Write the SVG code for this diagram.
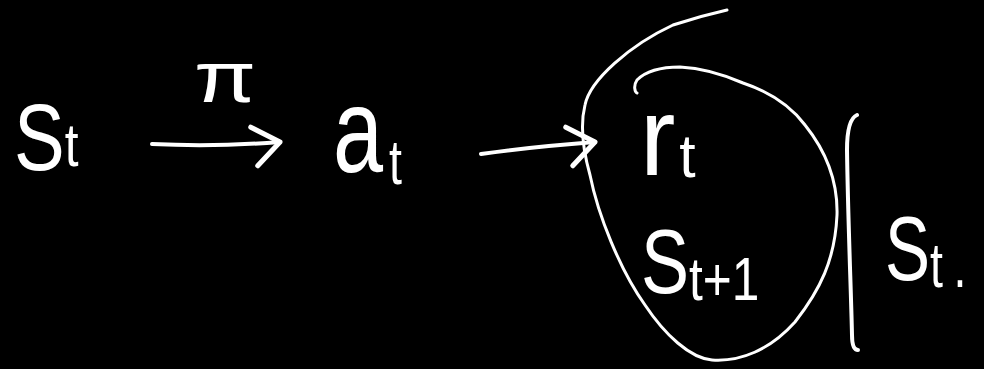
<svg xmlns="http://www.w3.org/2000/svg" width="984" height="369" viewBox="0 0 984 369">
  <style>
    .ink { fill: none; stroke: #ffffff; stroke-width: 4; stroke-linecap: round; stroke-linejoin: round; }
    .thin { fill: none; stroke: #ffffff; stroke-width: 3; stroke-linecap: round; stroke-linejoin: round; }
    .lbl { fill: #ffffff; font-family: "Liberation Sans", "DejaVu Sans", sans-serif; }
    .sub { font-size: 62px; }
  </style>
  <defs>
    <marker id="chev" markerUnits="userSpaceOnUse" viewBox="-34 -26 40 52" markerWidth="40" markerHeight="52" refX="0" refY="0" orient="auto" overflow="visible">
      <path d="M-28,-17 L0,0 L-24,22" fill="none" stroke="#ffffff" stroke-width="5" stroke-linecap="round" stroke-linejoin="round"/>
    </marker>
  </defs>
  <rect width="984" height="369" fill="#000000"/>

  <g id="connectors">
    <path class="ink" d="M152,144 Q215,147 280,142" marker-end="url(#chev)"/>
    <path class="ink" d="M481,154 Q530,147 595,142" marker-end="url(#chev)"/>
  </g>

  <g id="node-st">
    <text class="lbl" transform="translate(14,170) scale(0.8,1)" font-size="95">S<tspan class="sub" dy="-4">t</tspan></text>
  </g>

  <g id="label-pi">
    <text class="lbl" transform="translate(194,102) scale(1.25,1)" font-size="72">π</text>
  </g>

  <g id="node-at">
    <text class="lbl" transform="translate(333,172) scale(0.75,1)" font-size="120">a<tspan class="sub" dx="8" dy="12">t</tspan></text>
  </g>

  <g id="node-outcome">
    <path class="thin" d="M727,10 C705,15 688,20 673,25 C630,45 590,80 585,105 C580,125 583,150 590,175 C598,215 620,270 645,305 C665,335 690,358 712,360 C740,362 770,350 795,322 C820,290 835,260 837,215 C838,180 825,150 805,125 C790,105 770,92 743,83 C720,73 700,68 680,67 C660,67 645,72 637,80 C633,86 635,92 637,93"/>
    <text class="lbl" transform="translate(640,175) scale(0.95,1)" font-size="112">r<tspan class="sub" dx="4" dy="2">t</tspan></text>
    <text class="lbl" transform="translate(641,293) scale(0.8,1)" font-size="90">S<tspan class="sub" dy="7">t+1</tspan></text>
  </g>

  <g id="node-given">
    <path class="ink" d="M857,115 C850,118 847,130 847,150 C848,220 851,290 852,335 C852,345 854,350 858,350"/>
    <text class="lbl" transform="translate(885,280) scale(0.75,1)" font-size="90">S<tspan class="sub" dy="7">t</tspan><tspan class="sub" dx="14">.</tspan></text>
  </g>
</svg>
